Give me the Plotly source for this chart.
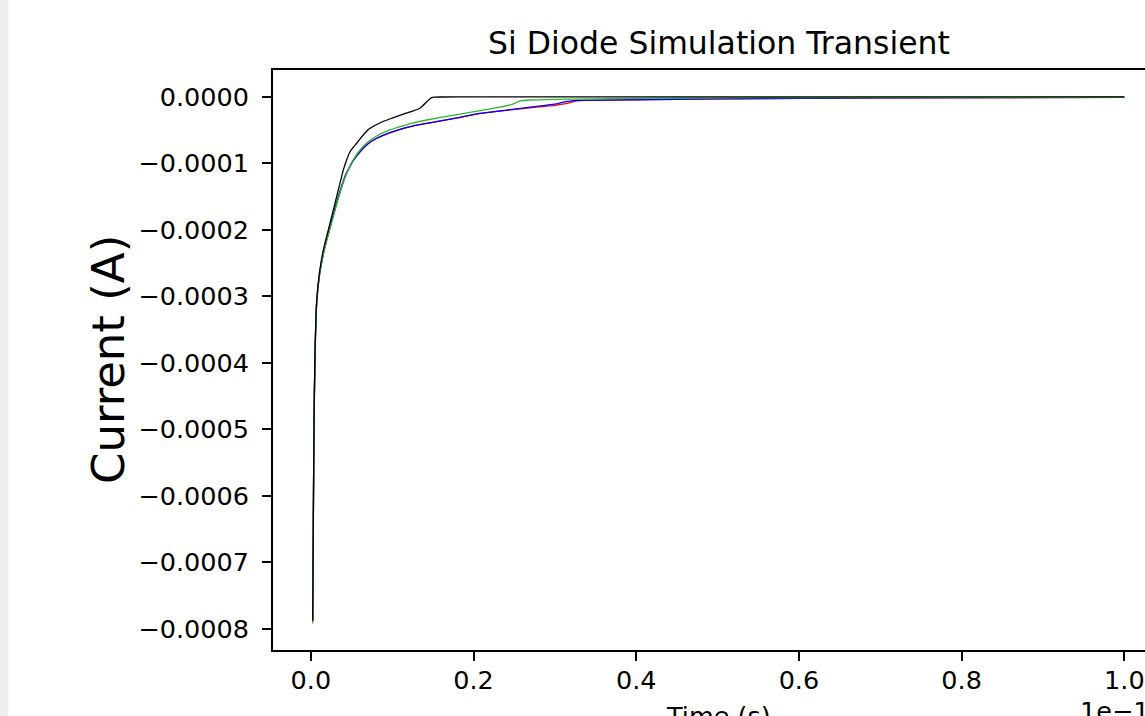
import plotly.graph_objects as go

# Time in units of 1e-10 s, current in A
TIME_UNIT_LABEL = "1e\u221210"

black_t = [0.0023, 0.0031, 0.0040, 0.0052, 0.0072, 0.0105, 0.0154, 0.0236, 0.0318, 0.0400, 0.0440,
           0.0480, 0.0520, 0.0564, 0.0600, 0.0680, 0.0728, 0.0780, 0.0880, 0.1000, 0.1137, 0.1250,
           0.1330, 0.1380, 0.1425, 0.1455, 0.1486, 0.1520, 0.1600, 0.2000, 0.4000, 0.6000, 0.8000,
           1.0000]
black_i = [-0.000788, -0.000631, -0.000481, -0.000381, -0.000306, -0.000265, -0.000230, -0.000190,
           -0.000150, -0.000110, -0.0000950, -0.0000830, -0.0000760, -0.0000699, -0.0000640,
           -0.0000525, -0.0000474, -0.0000435, -0.0000375, -0.0000320, -0.0000259, -0.0000215,
           -0.0000180, -0.0000130, -0.0000074, -0.0000040, -0.0000013, -0.0000005, -0.0000003,
           -0.0000002, 0.0, 0.0, 0.0, 0.0]

green_t = [0.0023, 0.0031, 0.0040, 0.0053, 0.0074, 0.0110, 0.0165, 0.0255, 0.0345, 0.0441, 0.0490,
           0.0530, 0.0605, 0.0700, 0.0810, 0.0950, 0.1097, 0.1250, 0.1425, 0.1834, 0.2080, 0.2300,
           0.2449, 0.2520, 0.2572, 0.2694, 0.3000, 0.3920, 0.5000, 0.7000, 1.0000]
green_i = [-0.000792, -0.000631, -0.000481, -0.000381, -0.000306, -0.000265, -0.000230, -0.000190,
           -0.000150, -0.000115, -0.000102, -0.0000930, -0.0000800, -0.0000680, -0.0000589,
           -0.0000510, -0.0000450, -0.0000395, -0.0000349, -0.0000259, -0.0000209, -0.0000160,
           -0.0000123, -0.0000090, -0.0000063, -0.0000048, -0.0000038, -0.0000023, -0.0000015,
           -0.0000010, -0.0000008]

blue_t = [0.0023, 0.0031, 0.0040, 0.0053, 0.0074, 0.0110, 0.0165, 0.0250, 0.0340, 0.0430, 0.0480,
          0.0520, 0.0605, 0.0700, 0.0810, 0.0950, 0.1097, 0.1250, 0.1425, 0.1834, 0.2080, 0.2408,
          0.2800, 0.3020, 0.3104, 0.3186, 0.3268, 0.3920, 0.5000, 0.7000, 1.0000]
blue_i = [-0.000788, -0.000631, -0.000481, -0.000381, -0.000306, -0.000265, -0.000230, -0.000190,
          -0.000150, -0.000117, -0.000105, -0.0000960, -0.0000826, -0.0000710, -0.0000624,
          -0.0000550, -0.0000489, -0.0000440, -0.0000399, -0.0000309, -0.0000248, -0.0000199,
          -0.0000140, -0.0000108, -0.0000080, -0.0000065, -0.0000055, -0.0000045, -0.0000030,
          -0.0000015, -0.0000008]

red_t = [0.0023, 0.0031, 0.0040, 0.0053, 0.0074, 0.0110, 0.0165, 0.0250, 0.0340, 0.0430, 0.0480,
         0.0520, 0.0605, 0.0700, 0.0810, 0.0950, 0.1097, 0.1250, 0.1425, 0.1834, 0.2080, 0.2408,
         0.2800, 0.3020, 0.3150, 0.3250, 0.3350, 0.3920, 0.5000, 0.7000, 1.0000]
red_i = [-0.000788, -0.000631, -0.000481, -0.000381, -0.000306, -0.000265, -0.000230, -0.000190,
         -0.000150, -0.000117, -0.000105, -0.0000960, -0.0000826, -0.0000710, -0.0000624,
         -0.0000550, -0.0000489, -0.0000440, -0.0000399, -0.0000310, -0.0000250, -0.0000203,
         -0.0000152, -0.0000126, -0.0000100, -0.0000065, -0.0000055, -0.0000047, -0.0000031,
         -0.0000016, -0.0000009]

x_tickvals = [0.0, 0.2, 0.4, 0.6, 0.8, 1.0]
x_ticktext = ["0.0", "0.2", "0.4", "0.6", "0.8", "1.0"]
y_tickvals = [0.0, -0.0001, -0.0002, -0.0003, -0.0004, -0.0005, -0.0006, -0.0007, -0.0008]
y_ticktext = ["0.0000", "\u22120.0001", "\u22120.0002", "\u22120.0003", "\u22120.0004",
              "\u22120.0005", "\u22120.0006", "\u22120.0007", "\u22120.0008"]

series = [
    ("red", red_t, red_i, "#ff0000"),
    ("blue", blue_t, blue_i, "#0000ff"),
    ("green", green_t, green_i, "#2db82d"),
    ("black", black_t, black_i, "#000000"),
]

FONT = "DejaVu Sans"
W, H = 1145, 716
ML, MR, MT, MB = 273, 0, 70, 66
PW = W - ML - MR
PH = H - MT - MB

fig = go.Figure()
for name, t, i, c in series:
    fig.add_trace(go.Scatter(x=t, y=i, mode="lines", name=name,
                             line=dict(color=c, width=1.3, shape="spline", smoothing=0.5),
                             showlegend=False))

axis_common = dict(showgrid=False, zeroline=False, showline=True, linecolor="black", linewidth=2,
                   ticks="outside", ticklen=9, tickwidth=2, tickcolor="black",
                   tickfont=dict(family=FONT, size=25.5, color="black"))

fig.update_xaxes(range=[-0.0465, 1.0254], tickmode="array", tickvals=x_tickvals,
                 ticktext=x_ticktext, mirror=True, ticklabelstandoff=-3, **axis_common)
fig.update_yaxes(range=[-0.000832, 0.0000403], tickmode="array", tickvals=y_tickvals,
                 ticktext=y_ticktext, mirror=False, ticklabelstandoff=8, **axis_common)

def px_x(p):
    return (p - ML) / PW

def px_y(p):
    return (H - MB - p) / PH

annotations = [
    dict(text="Si Diode Simulation Transient", x=px_x(719), y=px_y(43), xref="paper", yref="paper",
         xanchor="center", yanchor="middle", showarrow=False,
         font=dict(family=FONT, size=31.5, color="black")),
    dict(text="Current (A)", x=px_x(108), y=px_y(360), xref="paper", yref="paper",
         xanchor="center", yanchor="middle", textangle=-90, showarrow=False,
         font=dict(family=FONT, size=45, color="black")),
    dict(text="Time (s)", x=px_x(718), y=px_y(716), xref="paper", yref="paper",
         xanchor="center", yanchor="middle", showarrow=False,
         font=dict(family=FONT, size=25.5, color="black")),
    dict(text=TIME_UNIT_LABEL, x=px_x(1078), y=px_y(711), xref="paper", yref="paper",
         xanchor="left", yanchor="middle", showarrow=False,
         font=dict(family=FONT, size=25.5, color="black")),
]

shapes = [
    dict(type="rect", xref="paper", yref="paper", x0=px_x(0), x1=px_x(8.5),
         y0=px_y(H + 5), y1=px_y(-5), fillcolor="#efefef", line=dict(width=0), layer="below"),
]

fig.update_layout(width=W, height=H, margin=dict(l=ML, r=MR, t=MT, b=MB, pad=0),
                  paper_bgcolor="white", plot_bgcolor="white",
                  annotations=annotations, shapes=shapes)

fig.write_html("out.html")
